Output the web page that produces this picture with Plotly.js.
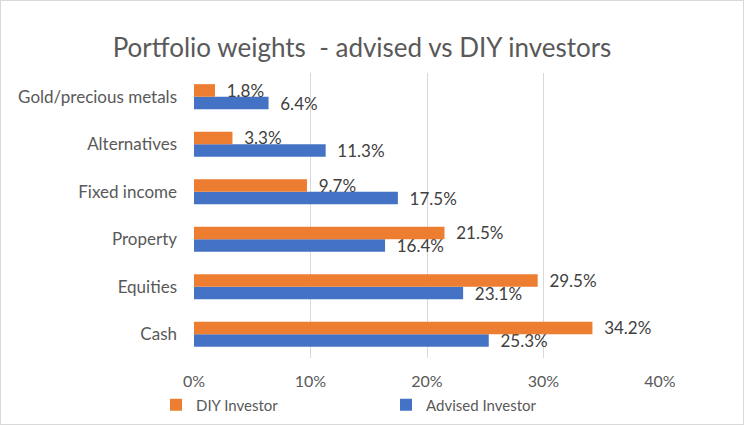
<!DOCTYPE html>
<html><head><meta charset="utf-8">
<script src="https://cdn.plot.ly/plotly-3.0.1.min.js"></script>
<style>
html,body{margin:0;padding:0;background:#fff;}
#wrap{width:742px;height:423px;border:1px solid #d9d9d9;}
#chart{width:742px;height:423px;}
</style></head>
<body><div id="wrap"><div id="chart"></div></div>
<script>
const categories = ['Cash','Equities','Property','Fixed income','Alternatives','Gold/precious metals'];
const diyInvestor = [34.2, 29.5, 21.5, 9.7, 3.3, 1.8];
const advisedInvestor = [25.3, 23.1, 16.4, 17.5, 11.3, 6.4];
const xTicks = [0, 10, 20, 30, 40];

const FONT = 'Lato, "Open Sans", sans-serif';
const pad = '\u00a0\u00a0';

const traces = [
  {
    type: 'bar', orientation: 'h', name: 'Advised Investor',
    y: categories, x: advisedInvestor,
    marker: {color: '#4472C4'},
    text: advisedInvestor.map(v => pad + v.toFixed(1) + '%'),
    textposition: 'outside', constraintext: 'none', cliponaxis: false,
    textfont: {family: FONT, size: 17, color: '#404040'},
    hoverinfo: 'skip'
  },
  {
    type: 'bar', orientation: 'h', name: 'DIY Investor',
    y: categories, x: diyInvestor,
    marker: {color: '#ED7D31'},
    text: diyInvestor.map(v => pad + v.toFixed(1) + '%'),
    textposition: 'outside', constraintext: 'none', cliponaxis: false,
    textfont: {family: FONT, size: 17, color: '#404040'},
    hoverinfo: 'skip'
  }
];

const layout = {
  width: 742, height: 423,
  margin: {l: 193, r: 83, t: 72, b: 66},
  paper_bgcolor: '#ffffff', plot_bgcolor: '#ffffff',
  font: {family: FONT, color: '#595959', size: 16},
  title: {text: 'Portfolio weights  - advised vs DIY investors',
          font: {family: FONT, size: 26, color: '#595959'},
          x: 361/742, xanchor: 'center', xref: 'container',
          y: 1 - 47/423, yanchor: 'middle', yref: 'container'},
  barmode: 'group', bargap: 0.47, bargroupgap: 0,
  xaxis: {range: [0, 40], tickvals: xTicks, ticktext: xTicks.map(t => t + '%'),
          showgrid: true, gridcolor: '#d9d9d9', gridwidth: 1,
          zeroline: false, showline: false, ticks: '', ticklabelstandoff: 12, automargin: false,
          tickfont: {family: FONT, size: 16, color: '#595959'}, fixedrange: true},
  yaxis: {type: 'category', categoryorder: 'array', categoryarray: categories,
          showgrid: false, zeroline: false, showline: false, ticks: '', ticklabelstandoff: 16, automargin: false,
          tickfont: {family: FONT, size: 17, color: '#595959'}, fixedrange: true},
  showlegend: true,
  legend: {orientation: 'h', traceorder: 'reversed',
           xref: 'container', x: 155/742, xanchor: 'left',
           yref: 'container', y: 1 - 404/423, yanchor: 'middle',
           entrywidth: 185, itemwidth: 30,
           font: {family: FONT, size: 15, color: '#595959'}, bgcolor: 'rgba(0,0,0,0)'}
};

Plotly.newPlot('chart', traces, layout, {displayModeBar: false, staticPlot: true});
</script></body></html>
